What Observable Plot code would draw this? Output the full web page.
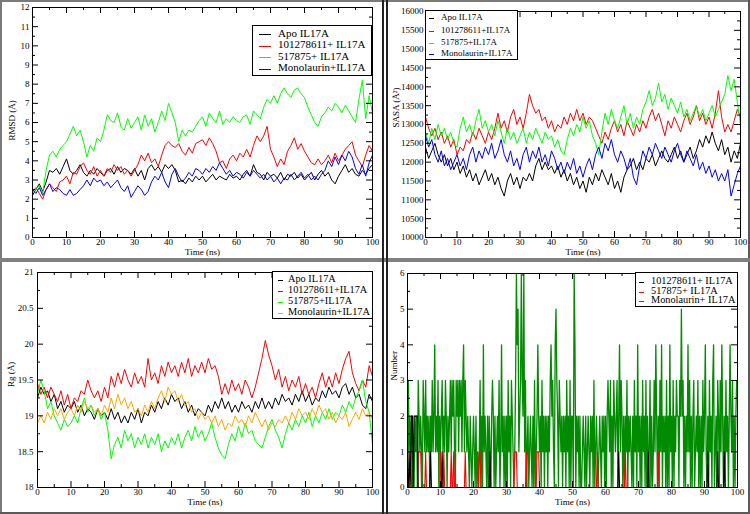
<!DOCTYPE html>
<html>
<head>
<meta charset="utf-8">
<script src="https://cdn.jsdelivr.net/npm/d3@7"></script>
<script src="https://cdn.jsdelivr.net/npm/@observablehq/plot@0.6"></script>
<style>
  html, body { margin: 0; padding: 0; background: #fff; }
  #wrap { position: relative; width: 750px; height: 514px; overflow: hidden; background: #fff; font-family: "Liberation Serif", "DejaVu Serif", serif; }
  .pane { position: absolute; overflow: hidden; }
  .pane svg { display: block; }
  .legend { position: absolute; background: #fff; border: 1px solid #000; box-sizing: border-box; font-family: "Liberation Serif", "DejaVu Serif", serif; }
  .legend .row { position: absolute; white-space: nowrap; color: #000; line-height: 1; font-family: "Liberation Serif", "DejaVu Serif", serif; }
  .legend .sw { position: absolute; height: 0; border-top: 1px solid #000; }
  .bar { position: absolute; }
</style>
</head>
<body>
<div id="wrap"></div>
<script>
// ---------------- DATA ----------------
const mdStepNs = 1;     // sampling of the digitised RMSD / SASA / Rg traces
const hbStepNs = 0.25;  // sampling of the digitised H-bond counts

// Panel A: RMSD (Å)
const rmsdApo = [
  2.2,2.5,2.8,2.4,2.9,3.5,3.4,3.6,3.3,3.7,
  4.1,3.5,3.3,3.5,3.8,3.4,3.2,3.5,3.3,3.6,
  3.4,3.2,3.5,3.6,3.3,3.7,3.4,3.6,3.5,3.3,
  3.6,3.2,3.5,3.0,3.6,3.8,3.5,3.7,3.4,3.8,
  3.6,3.8,3.5,2.9,3.0,2.8,3.1,2.9,3.2,3.0,
  3.2,2.9,3.1,3.3,3.0,3.2,3.1,3.0,3.3,3.1,
  3.2,3.0,3.3,3.5,3.2,3.8,3.4,3.3,3.0,3.4,
  3.2,3.3,3.1,3.4,3.0,3.3,3.2,3.4,3.1,3.3,
  3.0,3.2,3.4,3.0,3.3,3.5,3.2,3.4,3.0,2.8,
  3.2,3.5,3.8,3.4,3.6,3.3,3.2,3.5,3.3,3.6,
  3.8];
const rmsd101278611 = [
  2.4,2.6,2.3,2.0,2.5,2.8,2.6,2.4,2.9,3.0,
  3.2,2.8,3.4,3.3,3.7,3.9,3.5,3.3,3.7,3.2,
  3.5,3.2,3.6,3.4,3.8,3.5,3.7,3.3,3.5,3.2,
  3.5,3.8,4.3,4.0,4.4,3.9,4.1,3.7,4.3,4.8,
  5.0,4.8,4.7,4.9,4.5,4.3,4.7,4.4,4.9,5.0,
  5.1,4.8,5.2,4.9,4.5,3.9,4.0,3.6,4.1,4.3,
  4.0,4.4,4.2,4.6,4.2,4.8,5.3,5.0,5.3,5.8,
  4.6,4.2,3.7,4.1,3.8,4.5,4.8,5.2,4.6,4.9,
  4.5,4.2,3.9,3.8,4.1,3.8,4.0,4.3,3.9,4.4,
  4.0,4.3,4.6,4.8,5.0,4.3,4.0,3.7,4.3,4.8,
  4.5];
const rmsd517875 = [
  2.3,2.5,2.7,2.3,3.5,4.3,4.5,4.2,4.6,4.8,
  5.0,5.4,5.8,5.3,5.6,5.0,4.2,4.8,4.5,5.2,
  5.0,5.6,6.4,6.1,6.0,6.5,5.8,5.6,6.2,5.7,
  6.0,6.3,5.6,6.4,5.8,6.2,5.5,6.0,6.6,6.1,
  7.0,6.5,6.0,5.0,5.6,5.3,5.6,5.5,5.8,6.1,
  6.3,5.8,6.5,6.2,6.0,6.6,5.9,6.2,6.0,6.3,
  6.1,6.0,6.3,6.4,5.9,6.6,6.4,6.2,6.8,7.2,
  7.0,7.4,7.0,7.5,7.8,7.5,7.3,7.7,7.8,7.5,
  7.3,6.8,6.4,6.0,5.8,6.3,6.5,6.8,6.6,7.0,
  6.8,6.5,6.9,6.6,6.3,6.0,7.2,8.2,6.2,7.4,
  6.5];
const rmsdMonolaurin = [
  2.5,2.3,2.6,2.2,2.5,2.8,2.4,2.6,2.5,2.3,
  2.2,2.5,2.2,2.3,2.5,2.7,3.0,2.7,3.1,2.9,
  3.0,2.7,2.9,2.6,2.8,3.0,2.6,2.4,2.7,2.1,
  2.4,2.7,2.5,2.2,2.4,2.9,3.2,3.0,3.4,2.9,
  2.6,3.3,3.6,3.2,2.9,3.1,3.4,3.2,3.6,3.5,
  3.3,3.6,3.4,3.7,3.5,3.9,3.6,3.3,3.5,3.2,
  3.4,3.3,3.1,3.4,3.2,3.5,3.3,3.1,3.3,3.0,
  3.2,2.9,3.1,2.8,3.1,3.0,3.3,3.0,3.2,3.4,
  3.1,3.3,3.0,3.2,3.0,3.3,3.5,4.0,3.7,4.2,
  3.8,4.3,4.0,4.5,4.2,3.6,3.3,3.8,3.2,3.9,
  4.3];

// Panel B: SASA (Å²)
const sasaApo = [
  12400,12100,12300,12500,12200,12000,12200,11900,12100,11800,
  12000,11700,11900,11600,11800,11500,11700,11400,11600,11800,
  11500,11700,11400,11600,11300,11100,11500,11700,11400,11600,
  11300,11600,11500,11700,11500,11900,12100,11800,12000,11800,
  11900,11700,11900,11600,11800,11500,11700,11400,11600,11300,
  11500,11200,11600,11400,11700,11500,11800,11600,11400,11700,
  11300,11500,11200,11600,11800,11900,12100,11800,12000,11800,
  12100,12000,12200,11900,12100,12300,12100,12000,12200,12400,
  12100,12300,12000,12200,12400,12100,12300,12600,12400,12700,
  12500,12800,12500,12300,12600,12200,12400,12000,12300,12100,
  12500];
const sasa101278611 = [
  13200,12900,12700,12900,12600,12800,12500,12700,12400,12600,
  12200,12400,12300,12600,12500,12800,12600,12900,12700,12500,
  12800,12600,12900,13300,12900,13100,12800,13200,13400,13000,
  13200,12900,13300,13800,13500,13300,13400,13100,13200,12900,
  13100,12800,13000,12900,13200,13000,13300,13100,13400,13100,
  13300,13000,13200,13100,12900,12700,12500,12800,12600,12900,
  13100,12800,13000,12700,13100,12900,12700,13000,12800,13100,
  12900,13200,13400,13100,13300,13000,12700,13100,12900,13200,
  13000,12800,13100,13300,13000,13200,13500,13100,13300,13000,
  13200,12900,13300,13900,13200,12800,13000,12800,13100,13400,
  13200];
const sasa517875 = [
  12800,12500,12900,12600,13000,12700,12900,12600,12800,12500,
  12400,12900,13200,12800,13000,12700,13100,13400,12900,13100,
  12800,13000,12700,13100,12800,12500,12900,12600,12800,12500,
  12700,12900,12500,12800,12600,12900,12700,12500,12800,12600,
  12700,12400,12600,12300,12200,12600,12900,12700,13000,12800,
  13200,12900,13100,12700,12500,12200,12800,13300,13000,13400,
  13100,12900,13200,13500,13000,13300,12900,13200,13000,13400,
  13600,13900,13500,13700,14100,13600,13800,13400,13700,13500,
  13300,13600,13200,13400,13100,13300,13500,13200,13400,13100,
  13300,13500,13200,13400,13600,13800,14300,13900,14200,13600,
  13000];
const sasaMonolaurin = [
  12700,12400,12600,12200,12000,12300,11900,12100,11800,12000,
  12200,11900,12100,11800,12200,12400,12000,12300,12100,12400,
  12200,12500,12100,12300,12600,12200,12000,12300,11900,12100,
  11800,12200,12400,12000,12300,12100,12400,12000,12200,11900,
  12300,12100,11800,12000,11700,12000,11800,12100,11700,11900,
  11600,11900,12100,11800,12200,12400,12100,12500,12300,12600,
  12200,12000,12300,12100,11800,12100,11600,11400,11900,12300,
  12100,12400,12200,12500,12300,12100,12400,12200,12000,12300,
  12500,12200,12000,12300,12100,11900,12200,11800,12000,11700,
  11900,11600,11800,11500,11700,11500,11800,11100,11400,11700,
  11900];

// Panel C: Rg (Å)
const rgApo = [
  19.25,19.4,19.3,19.35,19.2,19.3,19.1,19.2,19.05,19.15,
  19.1,19.2,19.05,19.15,19.0,19.1,19.05,18.95,19.1,19.0,
  19.05,18.95,19.1,18.95,19.05,18.9,19.0,18.9,19.05,18.95,
  19.1,18.9,19.05,19.0,19.15,19.05,19.2,19.1,19.25,19.15,
  19.3,19.2,19.25,19.1,19.2,19.05,19.15,19.0,19.1,19.05,
  19.0,19.15,19.05,19.2,19.1,19.25,19.1,19.2,19.05,19.15,
  19.05,19.2,19.1,19.15,19.05,19.2,19.1,19.25,19.1,19.2,
  19.1,19.25,19.15,19.3,19.2,19.25,19.15,19.3,19.2,19.35,
  19.2,19.3,19.15,19.25,19.2,19.35,19.25,19.4,19.3,19.35,
  19.25,19.4,19.45,19.3,19.4,19.25,19.3,19.15,19.1,19.3,
  19.2];
const rg101278611 = [
  19.45,19.3,19.4,19.25,19.4,19.3,19.2,19.35,19.15,19.3,
  19.1,19.25,19.2,19.35,19.3,19.5,19.35,19.25,19.35,19.2,
  19.4,19.25,19.55,19.4,19.6,19.45,19.65,19.5,19.4,19.6,
  19.45,19.55,19.4,19.8,19.5,19.6,19.45,19.7,19.55,19.75,
  19.6,19.7,19.55,19.75,19.6,19.8,19.55,19.7,19.6,19.75,
  19.6,19.8,19.65,19.7,19.55,19.3,19.45,19.3,19.5,19.35,
  19.45,19.3,19.5,19.4,19.25,19.4,19.6,19.8,20.05,19.85,
  19.7,19.5,19.65,19.4,19.55,19.35,19.5,19.4,19.55,19.3,
  19.45,19.3,19.4,19.25,19.45,19.6,19.4,19.55,19.4,19.6,
  19.45,19.65,19.8,19.9,19.6,19.45,19.35,19.5,19.4,19.7,
  19.55];
const rg517875 = [
  19.3,19.5,19.35,19.1,19.2,19.0,18.9,18.8,18.95,18.85,
  18.9,19.0,18.9,19.1,19.25,19.05,19.15,19.0,19.1,18.95,
  19.05,18.8,18.4,18.6,18.7,18.55,18.8,18.65,18.75,18.55,
  18.7,18.6,18.75,18.55,18.7,18.6,18.75,18.5,18.65,18.55,
  18.7,18.6,18.75,18.55,18.7,18.8,18.65,18.85,18.7,18.8,
  18.65,18.75,18.9,18.7,18.55,18.45,18.4,18.6,18.75,18.65,
  18.85,18.7,18.9,18.75,18.8,18.65,18.6,18.55,18.7,18.85,
  18.95,18.8,18.7,18.55,18.75,18.9,18.8,18.95,18.85,19.0,
  18.9,19.05,18.85,19.0,18.9,19.05,18.95,19.1,18.95,19.05,
  19.0,19.15,19.05,19.2,19.1,19.25,19.35,19.5,19.2,19.05,
  18.6];
const rgMonolaurin = [
  18.9,19.0,18.9,19.05,18.95,19.1,19.0,19.1,18.95,19.05,
  19.1,19.0,19.15,19.05,19.2,19.1,19.15,19.05,19.1,19.0,
  19.15,19.05,19.25,19.1,19.3,19.15,19.25,19.1,19.2,19.05,
  19.1,19.0,19.15,19.05,19.2,19.1,19.25,19.35,19.2,19.4,
  19.3,19.35,19.2,19.3,19.15,19.2,19.05,19.1,18.95,19.05,
  18.95,19.0,18.9,19.0,18.85,18.95,18.8,18.9,18.85,19.0,
  18.9,18.95,18.85,19.0,18.9,19.05,18.95,18.85,18.95,18.8,
  18.9,18.85,18.95,18.9,19.0,18.9,19.05,18.95,19.1,19.0,
  19.05,18.95,19.1,19.0,19.15,19.05,19.1,18.95,19.05,18.9,
  19.0,18.95,19.05,18.85,18.95,19.05,18.95,19.1,19.0,19.05,
  18.95];

// Panel D: number of H-bonds (one digit per 0.25 ns, 5 ns per chunk)
const hb101278611 = [
  "00101220222220000000","00000000100000000000","00100000000000000000","00000000000000000000",
  "00000000000000000000","10000000000000000000","00000000000000000000","00000000000000000000",
  "00000000000000000000","00000000000000000000","00000000000000000000","00000000000000000000",
  "00000000000000001000","00000000000000000000","00000000000010000000","00000000000000000000",
  "00000000000000000000","00000000000000000000","00001000000000001000","00001000000000000000",
  "0"].join("");
const hb517875 = [
  "00001000000001111000","00100000000000000000","10001000000001001000","00000000001000000000",
  "00000001100000000000","00000000000000000000","00000000001110000000","00001000000000000111",
  "00000000000000000000","00000000000000000000","00000000000000000000","00000000001000000000",
  "00000000000000000000","00001000000000000000","00000000000000000000","00001000000000000000",
  "00000000000000000000","00000000000000000000","00000000000000000000","00000000000000000000",
  "0"].join("");
const hbMonolaurin = [
  "03121201021203212103","21312120213124121302","12312132021231323103","23132313413212102101",
  "21020101302041210202","10232020121301412020","20312032101364512363","26130120121020301242",
  "12031202120213423104","53203212021203120302","20640212020012102012","10212030121012102120",
  "20232130203212302413","20202130212102031204","12020312030201302013","14202031402120302041",
  "20302132203252302021","41302023012130202031","24102031203401203203","14202031202421302023",
  "3"].join("");

// Axis ticks
const timeMajor = [0,10,20,30,40,50,60,70,80,90,100];
const timeMinor = [5,15,25,35,45,55,65,75,85,95];
const rmsdMajor = [0,1,2,3,4,5,6,7,8,9,10,11,12];
const rmsdMinor = [0.5,1.5,2.5,3.5,4.5,5.5,6.5,7.5,8.5,9.5,10.5,11.5];
const sasaMajor = [10000,10500,11000,11500,12000,12500,13000,13500,14000,14500,15000,15500,16000];
const sasaMinor = [10250,10750,11250,11750,12250,12750,13250,13750,14250,14750,15250,15750];
const rgMajor = [18,18.5,19,19.5,20,20.5,21];
const rgMinor = [18.25,18.75,19.25,19.75,20.25,20.75];
const hbMajor = [0,1,2,3,4,5,6];
const hbMinor = [0.5,1.5,2.5,3.5,4.5,5.5];

// Legends
const legendA = ["Apo IL17A", "101278611+ IL17A", "517875+ IL17A", "Monolaurin+IL17A"];
const legendB = ["Apo IL17A", "101278611+IL17A", "517875+IL17A", "Monolaurin+IL17A"];
const legendC = ["Apo IL17A", "101278611+IL17A", "517875+IL17A", "Monolaurin+IL17A"];
const legendD = ["101278611+ IL17A", "517875+ IL17A", "Monolaurin+ IL17A"];

// ---------------- DRAWING ----------------
const BLACK = "#000000", RED = "#ff0000", GREEN = "#00ff00", BLUE = "#0000ff", ORANGE = "#ffa500", DKGREEN = "#008b00";
const FONT = "'Liberation Serif', 'DejaVu Serif', serif";
const wrap = document.getElementById("wrap");
const digits = s => Array.from(s, Number);

function panel(cfg) {
  const {left, top, width, height, ml, mr, mt, mb, xDomain, yDomain, xMajor, xMinor, yMajor, yMinor,
         series, xLabel, yLabel, yLabelDx, yLabelDy, xLabelDy, yTickPad} = cfg;
  const fw = width - ml - mr, fh = height - mt - mb;
  const marks = series.map(s => Plot.line(s.values, {
    x: (d, i) => i * s.step, y: d => d, stroke: s.color, strokeWidth: s.sw || 1, clip: true
  }));
  marks.push(
    Plot.ruleX(xMajor, {x: d => d, insetTop: fh - 6}),
    Plot.ruleX(xMajor, {x: d => d, insetBottom: fh - 6}),
    Plot.ruleX(xMinor, {x: d => d, insetTop: fh - 3}),
    Plot.ruleX(xMinor, {x: d => d, insetBottom: fh - 3}),
    Plot.ruleY(yMajor, {y: d => d, insetRight: fw - 6}),
    Plot.ruleY(yMajor, {y: d => d, insetLeft: fw - 6}),
    Plot.ruleY(yMinor, {y: d => d, insetRight: fw - 3}),
    Plot.ruleY(yMinor, {y: d => d, insetLeft: fw - 3}),
    Plot.frame({stroke: "#000", strokeWidth: 1}),
    Plot.axisX(xMajor, {tickSize: 0, tickPadding: 1.5, tickFormat: d => String(d), label: null}),
    Plot.axisY(yMajor, {tickSize: 0, tickPadding: yTickPad, tickFormat: d => String(d), label: null}),
    Plot.text([xLabel], {frameAnchor: "bottom", dy: xLabelDy, text: d => d, fontSize: 9}),
    Plot.text([yLabel], {frameAnchor: "left", dx: yLabelDx, dy: yLabelDy, rotate: -90, text: d => d, fontSize: 9})
  );
  const svg = Plot.plot({
    width, height, marginLeft: ml, marginRight: mr, marginTop: mt, marginBottom: mb,
    x: {domain: xDomain, axis: null},
    y: {domain: yDomain, axis: null},
    style: {fontFamily: FONT, fontSize: "9px", background: "#fff", color: "#000"},
    marks
  });
  const div = document.createElement("div");
  div.className = "pane";
  Object.assign(div.style, {left: left + "px", top: top + "px", width: width + "px", height: height + "px"});
  div.appendChild(svg);
  wrap.appendChild(div);
}

function legend(cfg) {
  const {left, top, width, height, labels, colors, rowsY, lineX0, lineX1, textX, fontSize} = cfg;
  const box = document.createElement("div");
  box.className = "legend";
  Object.assign(box.style, {left: left + "px", top: top + "px", width: width + "px", height: height + "px"});
  labels.forEach((lab, i) => {
    const sw = document.createElement("div");
    sw.className = "sw";
    Object.assign(sw.style, {left: lineX0 + "px", width: (lineX1 - lineX0) + "px", top: rowsY[i] + "px", borderTopColor: colors[i]});
    box.appendChild(sw);
    const t = document.createElement("div");
    t.className = "row";
    t.textContent = lab;
    Object.assign(t.style, {left: textX + "px", top: (rowsY[i] - fontSize * 0.55) + "px", fontSize: fontSize + "px"});
    box.appendChild(t);
  });
  wrap.appendChild(box);
}

// Panel A (RMSD)
panel({
  left: 0, top: 0, width: 383, height: 258, ml: 32, mr: 11, mt: 7, mb: 21,
  xDomain: [0, 100], yDomain: [0, 12], xMajor: timeMajor, xMinor: timeMinor, yMajor: rmsdMajor, yMinor: rmsdMinor,
  series: [
    {values: rmsdApo, step: mdStepNs, color: BLACK},
    {values: rmsd101278611, step: mdStepNs, color: RED},
    {values: rmsd517875, step: mdStepNs, color: GREEN},
    {values: rmsdMonolaurin, step: mdStepNs, color: BLUE}
  ],
  xLabel: "Time (ns)", yLabel: "RMSD (Å)", xLabelDy: 17, yLabelDx: -20, yLabelDy: 18, yTickPad: 3
});
// Panel B (SASA)
panel({
  left: 386, top: 0, width: 362, height: 258, ml: 39, mr: 8, mt: 11, mb: 21,
  xDomain: [0, 100], yDomain: [10000, 16000], xMajor: timeMajor, xMinor: timeMinor, yMajor: sasaMajor, yMinor: sasaMinor,
  series: [
    {values: sasaApo, step: mdStepNs, color: BLACK},
    {values: sasa101278611, step: mdStepNs, color: RED},
    {values: sasa517875, step: mdStepNs, color: GREEN},
    {values: sasaMonolaurin, step: mdStepNs, color: BLUE}
  ],
  xLabel: "Time (ns)", yLabel: "SASA (Å²)", xLabelDy: 17, yLabelDx: -29, yLabelDy: 3, yTickPad: 2
});
// Panel C (Rg)
panel({
  left: 0, top: 262, width: 383, height: 250, ml: 37, mr: 11, mt: 10, mb: 25,
  xDomain: [0, 100], yDomain: [18, 21], xMajor: timeMajor, xMinor: timeMinor, yMajor: rgMajor, yMinor: rgMinor,
  series: [
    {values: rgApo, step: mdStepNs, color: BLACK},
    {values: rg101278611, step: mdStepNs, color: RED},
    {values: rg517875, step: mdStepNs, color: GREEN},
    {values: rgMonolaurin, step: mdStepNs, color: ORANGE}
  ],
  xLabel: "Time (ns)", yLabel: "Rg (Å)", xLabelDy: 17.5, yLabelDx: -26, yLabelDy: 7, yTickPad: 4
});
// Panel D (H-bonds)
panel({
  left: 386, top: 262, width: 362, height: 250, ml: 21, mr: 11, mt: 11, mb: 25,
  xDomain: [0, 100], yDomain: [0, 6], xMajor: timeMajor, xMinor: timeMinor, yMajor: hbMajor, yMinor: hbMinor,
  series: [
    {values: digits(hbMonolaurin), step: hbStepNs, color: DKGREEN, sw: 1.3},
    {values: digits(hb517875), step: hbStepNs, color: RED, sw: 1.1},
    {values: digits(hb101278611), step: hbStepNs, color: BLACK, sw: 1.1}
  ],
  xLabel: "Time (ns)", yLabel: "Number", xLabelDy: 17, yLabelDx: -13, yLabelDy: 0, yTickPad: 3
});

// Legends (inside the frames, as in the original)
legend({left: 252, top: 25, width: 120, height: 51, labels: legendA, colors: [BLACK, RED, GREEN, BLUE],
        rowsY: [8, 19.5, 31, 42.5], lineX0: 6, lineX1: 18, textX: 25, fontSize: 11});
legend({left: 425, top: 10, width: 93, height: 50, labels: legendB, colors: [BLACK, RED, GREEN, BLUE],
        rowsY: [7, 19.5, 31.5, 43], lineX0: 3, lineX1: 8, textX: 15, fontSize: 9});
legend({left: 272, top: 271, width: 101, height: 48, labels: legendC, colors: [BLACK, RED, GREEN, ORANGE],
        rowsY: [8, 19, 30, 41], lineX0: 5, lineX1: 10, textX: 15, fontSize: 10.3});
legend({left: 635, top: 272, width: 103, height: 35, labels: legendD, colors: [BLACK, RED, DKGREEN],
        rowsY: [9, 18.5, 28], lineX0: 3, lineX1: 8, textX: 15, fontSize: 10.3});

// Panel borders / separators
function bar(l, t, w, h, c) {
  const d = document.createElement("div");
  d.className = "bar";
  Object.assign(d.style, {left: l + "px", top: t + "px", width: w + "px", height: h + "px", background: c});
  wrap.appendChild(d);
}
bar(0, 0, 750, 2, "#7a7a7a");
bar(0, 0, 2, 514, "#7a7a7a");
bar(0, 512, 750, 2, "#5a5a5a");
bar(748, 0, 2, 514, "#5a5a5a");
bar(0, 258, 750, 4, "#808080");
bar(382, 0, 2, 514, "#222");
bar(386, 0, 2, 514, "#222");
</script>
</body>
</html>
